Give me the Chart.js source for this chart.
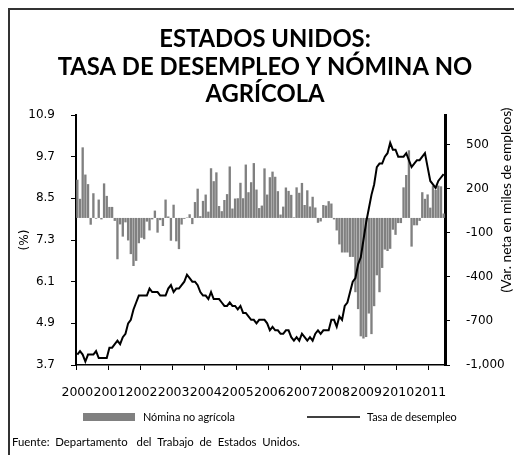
<!DOCTYPE html>
<html>
<head>
<meta charset="utf-8">
<script src="https://cdn.jsdelivr.net/npm/chart.js@4.4.1/dist/chart.umd.min.js"></script>
<style>
html,body{margin:0;padding:0;background:#fff;overflow:hidden}
canvas{display:block}
</style>
</head>
<body>
<canvas id="c" width="514" height="455"></canvas>
<script>
// ---------------- DATA ----------------
const years = ['2000','2001','2002','2003','2004','2005','2006','2007','2008','2009','2010','2011'];
const monthsShown = 138; // Jan 2000 - Jun 2011

// Tasa de desempleo (%), monthly
const unemploymentRate = [
  4.0,4.1,4.0,3.8,4.0,4.0,4.0,4.1,3.9,3.9,3.9,3.9,
  4.2,4.2,4.3,4.4,4.3,4.5,4.6,4.9,5.0,5.3,5.5,5.7,
  5.7,5.7,5.7,5.9,5.8,5.8,5.8,5.7,5.7,5.7,5.9,6.0,
  5.8,5.9,5.9,6.0,6.1,6.3,6.2,6.1,6.1,6.0,5.8,5.7,
  5.7,5.6,5.8,5.6,5.6,5.6,5.5,5.4,5.4,5.5,5.4,5.4,
  5.3,5.4,5.2,5.2,5.1,5.0,5.0,4.9,5.0,5.0,5.0,4.9,
  4.7,4.8,4.7,4.7,4.6,4.6,4.7,4.7,4.5,4.4,4.5,4.4,
  4.6,4.5,4.4,4.5,4.4,4.6,4.7,4.6,4.7,4.7,4.7,5.0,
  5.0,4.8,5.1,5.0,5.4,5.5,5.8,6.1,6.2,6.6,6.8,7.3,
  7.8,8.2,8.6,8.9,9.4,9.5,9.5,9.7,9.8,10.1,9.9,9.9,
  9.7,9.7,9.7,9.8,9.6,9.4,9.5,9.6,9.6,9.7,9.8,9.4,
  9.0,8.9,8.8,9.0,9.1,9.2
];

// Nómina no agrícola (variación neta, miles de empleos), monthly
const payrollChange = [
  260,130,480,295,230,-46,168,-5,125,-10,235,150,
  75,75,-20,-281,-44,-127,-30,-153,-246,-327,-292,-172,
  -135,-145,-25,-85,-10,50,-100,-15,-55,125,10,-155,
  90,-159,-212,-45,-6,3,25,-42,108,199,12,116,
  159,43,338,250,310,81,46,122,162,350,64,132,
  134,239,134,363,175,243,373,193,67,84,337,159,
  277,315,280,182,23,77,207,184,157,4,208,171,
  238,88,188,78,144,71,-33,-24,88,84,114,98,
  -10,-85,-180,-235,-235,-235,-265,-265,-505,-620,-805,-820,
  -810,-650,-790,-600,-390,-505,-340,-215,-225,-210,-80,-115,
  -35,-35,208,292,460,-195,-50,-50,-20,175,130,160,
  70,220,190,220,215,30
];

const leftTicks = [3.7, 4.9, 6.1, 7.3, 8.5, 9.7, 10.9];
const rightTicks = [-1000, -700, -400, -100, 200, 500];

const titleLines = ['ESTADOS UNIDOS:', 'TASA DE DESEMPLEO Y NÓMINA NO', 'AGRÍCOLA'];
const leftAxisTitle = '(%)';
const rightAxisTitle = '(Var. neta en miles de empleos)';
const footerText = 'Fuente:  Departamento   del  Trabajo  de  Estados  Unidos.';

// month category labels
const labels = [];
for (let i = 0; i < monthsShown; i++) {
  labels.push(years[Math.floor(i / 12)] + '-' + String(i % 12 + 1).padStart(2, '0'));
}

// ---------------- helpers ----------------
function fitSize(text, weight, family, target) {
  const c = document.createElement('canvas').getContext('2d');
  c.font = weight + ' 100px ' + family;
  return 100 * target / c.measureText(text).width;
}
const titleSize = fitSize(titleLines[1], 'bold', 'Lato', 415);
const legendSize = fitSize('Nómina no agrícola', 'normal', 'Lato', 92);
const footerSize = fitSize(footerText, 'normal', 'Lato', 288);
const rightTitleSize = fitSize(rightAxisTitle, 'normal', 'Lato', 185);

const framePlugin = {
  id: 'frame',
  beforeDraw(chart) {
    const ctx = chart.ctx;
    ctx.save();
    ctx.fillStyle = '#fff';
    ctx.fillRect(0, 0, chart.width, chart.height);
    ctx.strokeStyle = '#333';
    ctx.lineWidth = 2;
    ctx.beginPath();
    ctx.moveTo(9, chart.height + 5);
    ctx.lineTo(9, 9);
    ctx.lineTo(chart.width + 5, 9);
    ctx.stroke();
    ctx.restore();
  }
};

const extrasPlugin = {
  id: 'extras',
  afterDraw(chart) {
    const ctx = chart.ctx;
    const ds = chart.data.datasets;
    const bar = ds.find(d => d.type === 'bar');
    const line = ds.find(d => d.type === 'line');
    ctx.save();
    // legend
    const ly = 417;
    ctx.fillStyle = bar.backgroundColor;
    ctx.fillRect(83, ly - 4, 52, 8);
    ctx.strokeStyle = line.borderColor;
    ctx.lineWidth = 1.5;
    ctx.beginPath();
    ctx.moveTo(307, ly);
    ctx.lineTo(360, ly);
    ctx.stroke();
    ctx.fillStyle = '#000';
    ctx.textBaseline = 'middle';
    ctx.textAlign = 'left';
    ctx.font = 'normal ' + legendSize + 'px Lato';
    ctx.fillText(bar.label, 143, ly);
    ctx.fillText(line.label, 367, ly);
    // footer
    ctx.font = 'normal ' + footerSize + 'px Lato';
    ctx.fillText(footerText, 12, 442);
    // right axis title (reads bottom to top)
    ctx.translate(507, 200);
    ctx.rotate(-Math.PI / 2);
    ctx.textAlign = 'center';
    ctx.font = 'normal ' + rightTitleSize + 'px Lato';
    ctx.fillText(rightAxisTitle, 0, 0);
    ctx.restore();
  }
};

new Chart(document.getElementById('c'), {
  data: {
    labels: labels,
    datasets: [
      {
        type: 'line',
        label: 'Tasa de desempleo',
        data: unemploymentRate,
        yAxisID: 'y',
        borderColor: '#000',
        borderWidth: 2,
        pointRadius: 0,
        tension: 0,
        order: 0
      },
      {
        type: 'bar',
        label: 'Nómina no agrícola',
        data: payrollChange,
        yAxisID: 'y1',
        backgroundColor: '#808080',
        borderWidth: 0,
        barPercentage: 1,
        categoryPercentage: 0.88,
        order: 1
      }
    ]
  },
  options: {
    responsive: false,
    animation: false,
    devicePixelRatio: 1,
    layout: { padding: { top: 10, left: 16, right: 0, bottom: 0 } },
    plugins: {
      legend: { display: false },
      tooltip: { enabled: false },
      title: {
        display: true,
        text: titleLines,
        color: '#000',
        font: { family: 'Lato', weight: 'bold', size: titleSize, lineHeight: '27.5px' },
        padding: { top: 16, bottom: 6.5 }
      }
    },
    scales: {
      x: {
        type: 'category',
        offset: true,
        grid: {
          offset: true,
          drawOnChartArea: false,
          drawTicks: true,
          tickLength: 5,
          lineWidth: 1,
          color: c => (c.index % 12 === 0 ? '#000' : 'rgba(0,0,0,0)')
        },
        border: { display: true, color: '#000', width: 1.5 },
        ticks: {
          autoSkip: false,
          maxRotation: 0,
          minRotation: 0,
          padding: 15.5,
          color: '#000',
          font: { family: 'DejaVu Sans', size: 12.5 },
          callback: (v, i) => (i % 12 === 0 ? years[i / 12] : '')
        },
        afterFit: s => { s.height = 90; }
      },
      y: {
        position: 'left',
        min: 3.7,
        max: 10.9,
        afterBuildTicks: s => { s.ticks = leftTicks.map(v => ({ value: v })); },
        ticks: {
          padding: 16,
          color: '#000',
          font: { family: 'DejaVu Sans', size: 12 },
          callback: v => Number(v).toFixed(1)
        },
        grid: { drawOnChartArea: false, tickLength: 5, color: '#000', lineWidth: 1 },
        border: { display: true, color: '#000', width: 2 },
        title: {
          display: true,
          text: leftAxisTitle,
          color: '#000',
          font: { family: 'DejaVu Sans', size: 12 },
          padding: { top: 2, bottom: 0 }
        },
        afterFit: s => { s.width = 60; }
      },
      y1: {
        position: 'right',
        min: -1000,
        max: 700,
        afterBuildTicks: s => { s.ticks = rightTicks.map(v => ({ value: v })); },
        ticks: {
          padding: 16,
          color: '#000',
          font: { family: 'DejaVu Sans', size: 12 },
          callback: v => Number(v).toLocaleString('en-US')
        },
        grid: { drawOnChartArea: false, tickLength: 5, color: '#000', lineWidth: 1 },
        border: { display: true, color: '#000', width: 3 },
        afterFit: s => { s.width = 69; }
      }
    }
  },
  plugins: [framePlugin, extrasPlugin]
});
</script>
</body>
</html>
